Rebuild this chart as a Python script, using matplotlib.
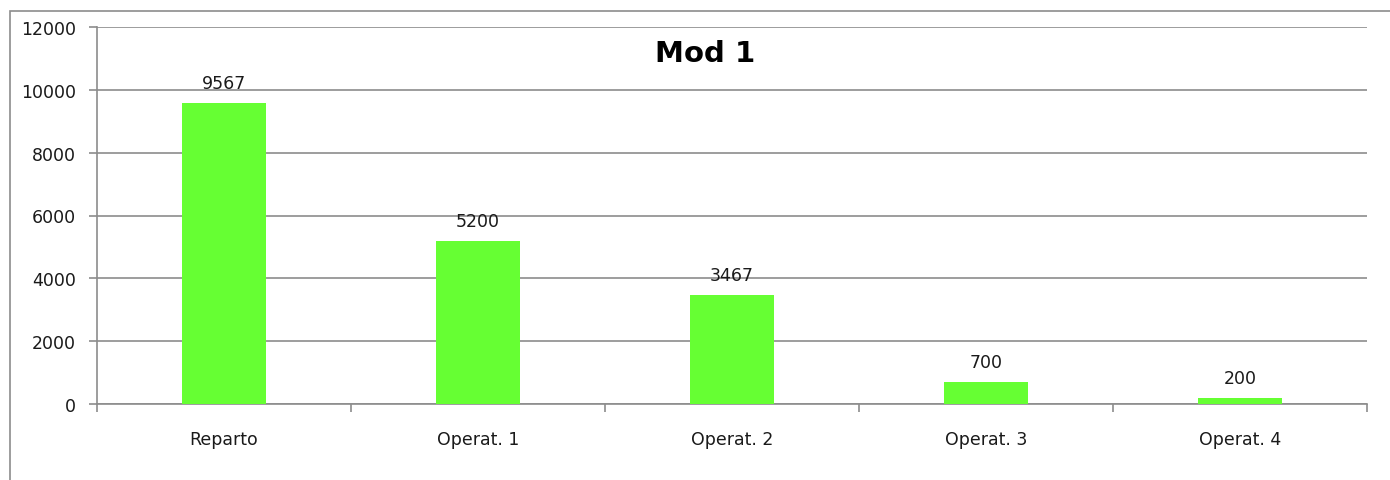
import matplotlib
matplotlib.use("Agg")
import matplotlib.pyplot as plt
from matplotlib.patches import Rectangle
from matplotlib.ticker import FixedLocator

categories = ["Reparto", "Operat. 1", "Operat. 2", "Operat. 3", "Operat. 4"]
values = [9567, 5200, 3467, 700, 200]
yticks = [0, 2000, 4000, 6000, 8000, 10000, 12000]
title = "Mod 1"

W, H = 1390, 481
fig = plt.figure(figsize=(W / 100, H / 100), dpi=100)
fig.patch.set_facecolor("white")

# outer chart border
fig.add_artist(Rectangle((10 / W, -0.05), 1.2, 1 - 12 / H + 0.05,
                         transform=fig.transFigure, fill=False,
                         edgecolor="#8c8c8c", linewidth=1.2))

ax = fig.add_axes([97 / W, 1 - 405 / H, (1367 - 97) / W, (405 - 28) / H])
x = list(range(len(categories)))
ax.bar(x, values, width=0.33, color="#66ff33", zorder=3)
for xi, v in zip(x, values):
    ax.annotate(str(v), (xi, v), xytext=(0, 8), textcoords="offset points",
                ha="center", va="bottom", fontsize=12.5, color="#1a1a1a")

ax.set_xlim(-0.5, len(categories) - 0.5)
ax.set_ylim(0, 12000)
ax.set_yticks(yticks)
ax.set_yticklabels([str(t) for t in yticks], fontsize=12.5, color="#1a1a1a")
ax.set_xticks(x)
ax.set_xticklabels(categories, fontsize=12.5, color="#1a1a1a")
ax.xaxis.set_minor_locator(FixedLocator([i - 0.5 for i in range(len(categories) + 1)]))
ax.tick_params(axis="x", which="major", length=0, pad=19)
ax.tick_params(axis="x", which="minor", length=5.5, width=1.2, color="#8c8c8c", direction="out")
ax.tick_params(axis="y", length=6, width=1.2, color="#8c8c8c", pad=9)

ax.grid(axis="y", color="#8c8c8c", linewidth=1.2, zorder=1)
for s in ["top", "right"]:
    ax.spines[s].set_visible(False)
for s in ["left", "bottom"]:
    ax.spines[s].set_color("#8c8c8c")
    ax.spines[s].set_linewidth(1.2)

ax.text(0.4787, 0.93, title, transform=ax.transAxes, ha="center", va="center",
        fontsize=21, fontweight="bold", color="black")

fig.savefig("out.png", dpi=100)
